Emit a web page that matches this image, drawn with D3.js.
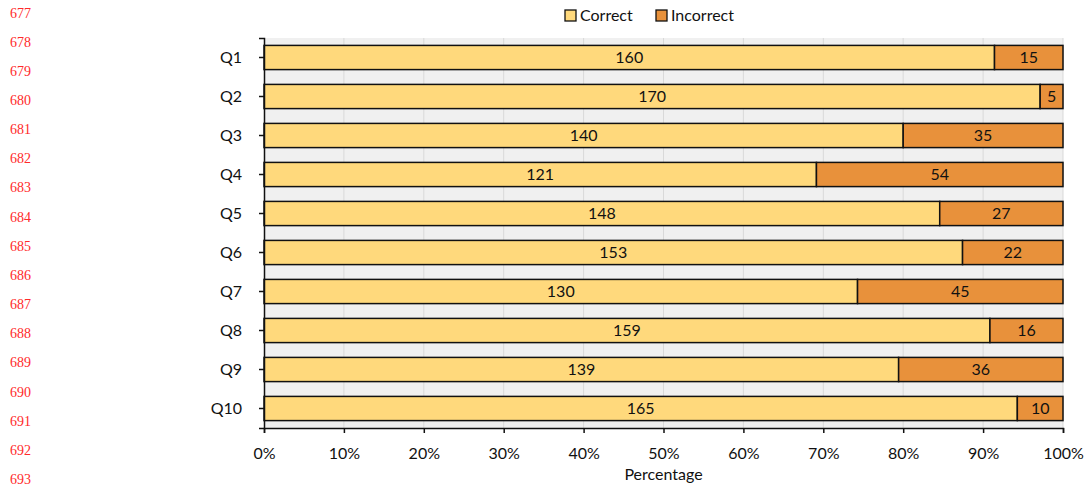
<!DOCTYPE html>
<html>
<head>
<meta charset="utf-8">
<script src="https://cdn.jsdelivr.net/npm/d3@7"></script>
<style>
  body { margin: 0; background: #fff; }
  svg { display: block; }
  text { font-family: Lato, "Open Sans", sans-serif; }
  text.lineno { font-family: "Liberation Serif", "DejaVu Serif", serif; }
</style>
</head>
<body>
<svg id="chart" width="1086" height="493"></svg>
<script>
// Questions and response counts
const questions = ["Q1", "Q2", "Q3", "Q4", "Q5", "Q6", "Q7", "Q8", "Q9", "Q10"];
const correct   = [160, 170, 140, 121, 148, 153, 130, 159, 139, 165];
const incorrect = [15, 5, 35, 54, 27, 22, 45, 16, 36, 10];
const seriesNames = ["Correct", "Incorrect"];
const xTicks = [0, 0.1, 0.2, 0.3, 0.4, 0.5, 0.6, 0.7, 0.8, 0.9, 1.0];
const lineNumbers = [677, 678, 679, 680, 681, 682, 683, 684, 685, 686, 687, 688, 689, 690, 691, 692, 693];

const colors = { Correct: "#FFD97C", Incorrect: "#E8913B" };
const FONT_SIZE = 16;

const svg = d3.select("#chart");
const margin = { left: 264, right: 23, top: 38, bottom: 65 };
const W = 1086, H = 493;
const plotW = W - margin.left - margin.right;
const plotH = H - margin.top - margin.bottom;

// Margin line numbers
const ln = d3.scaleLinear().domain([677, 693]).range([17.5, 484]);
svg.append("g").selectAll("text").data(lineNumbers).join("text")
  .attr("class", "lineno")
  .attr("x", 10).attr("y", d => ln(d))
  .attr("font-size", 14).attr("fill", "#ff2a2a")
  .text(d => d);

const g = svg.append("g").attr("transform", `translate(${margin.left},${margin.top})`);

const x = d3.scaleLinear().domain([0, 1]).range([0, plotW]);
const y = d3.scaleBand().domain(questions).range([0, plotH]).paddingInner(0.38).paddingOuter(0.19);

// Plot background and gridlines
g.append("rect").attr("width", plotW).attr("height", plotH).attr("fill", "#f0f0f0");
g.append("g").selectAll("line").data(xTicks.slice(1)).join("line")
  .attr("x1", d => x(d)).attr("x2", d => x(d))
  .attr("y1", 0).attr("y2", plotH)
  .attr("stroke", "#d9d9d9").attr("stroke-width", 1);

// Stacked percentage data
const rows = questions.map((q, i) => {
  const total = correct[i] + incorrect[i];
  return { q, Correct: correct[i], Incorrect: incorrect[i], total };
});
const stack = d3.stack().keys(seriesNames)
  .value((d, k) => d[k] / d.total);
const layers = stack(rows);

const layerG = g.selectAll(".layer").data(layers).join("g")
  .attr("fill", d => colors[d.key]);
layerG.selectAll("rect").data(d => d.map(s => ({ s, key: d.key }))).join("rect")
  .attr("x", d => x(d.s[0]))
  .attr("y", d => y(d.s.data.q))
  .attr("width", d => x(d.s[1]) - x(d.s[0]))
  .attr("height", y.bandwidth())
  .attr("stroke", "#111").attr("stroke-width", 1.5);

layerG.selectAll("text").data(d => d.map(s => ({ s, key: d.key }))).join("text")
  .attr("x", d => (x(d.s[0]) + x(d.s[1])) / 2)
  .attr("y", d => y(d.s.data.q) + y.bandwidth() / 2)
  .attr("dy", "0.37em")
  .attr("text-anchor", "middle")
  .attr("font-size", FONT_SIZE).attr("fill", "#111")
  .text(d => d.s.data[d.key]);

// Axes
const xAxis = g.append("g").attr("transform", `translate(0,${plotH})`)
  .call(d3.axisBottom(x).tickValues(xTicks).tickFormat(d3.format(".0%"))
    .tickSize(5).tickSizeOuter(5).tickPadding(15));
xAxis.select(".domain").attr("stroke", "#111").attr("stroke-width", 1.5);
xAxis.selectAll(".tick line").attr("stroke", "#111").attr("stroke-width", 1.5);
xAxis.selectAll(".tick text").attr("font-size", FONT_SIZE).attr("fill", "#111")
  .style("font-family", "Lato, sans-serif");

const yAxis = g.append("g")
  .call(d3.axisLeft(y).tickSize(5).tickSizeOuter(5).tickPadding(17));
yAxis.select(".domain").attr("stroke", "#111").attr("stroke-width", 1.5);
yAxis.selectAll(".tick line").attr("stroke", "#111").attr("stroke-width", 1.5);
yAxis.selectAll(".tick text").attr("font-size", FONT_SIZE).attr("fill", "#111")
  .style("font-family", "Lato, sans-serif");

// Axis title
svg.append("text")
  .attr("x", margin.left + plotW / 2).attr("y", 480)
  .attr("text-anchor", "middle").attr("font-size", FONT_SIZE).attr("fill", "#111")
  .text("Percentage");

// Legend
const legend = svg.append("g").attr("transform", "translate(565,10)");
const legendX = [0, 91];
seriesNames.forEach((name, i) => {
  const lg = legend.append("g").attr("transform", `translate(${legendX[i]},0)`);
  lg.append("rect").attr("width", 11).attr("height", 11)
    .attr("fill", colors[name]).attr("stroke", "#111").attr("stroke-width", 1.3);
  lg.append("text").attr("x", 15).attr("y", 5.5).attr("dy", "0.37em")
    .attr("font-size", FONT_SIZE).attr("fill", "#111").text(name);
});
</script>
</body>
</html>
